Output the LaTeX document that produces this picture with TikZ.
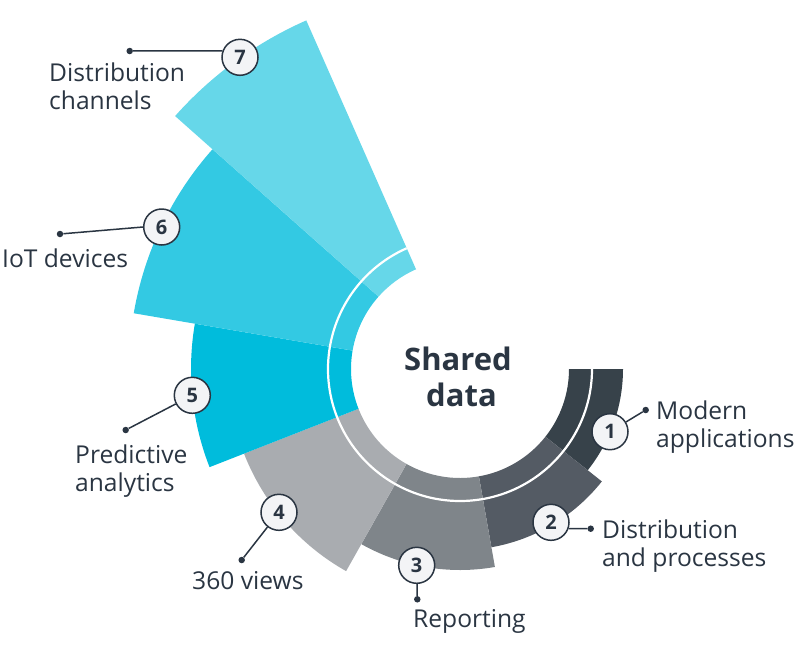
\documentclass[tikz,border=0pt]{standalone}
\usepackage{fontspec}
\setmainfont{Open Sans}
\usetikzlibrary{shapes}
\definecolor{ink}{HTML}{2A3542}
\definecolor{badgefill}{HTML}{F3F4F6}
\definecolor{seg_a}{HTML}{37424A}
\definecolor{seg_b}{HTML}{545B64}
\definecolor{seg_c}{HTML}{7F858A}
\definecolor{seg_d}{HTML}{A9ACB0}
\definecolor{seg_e}{HTML}{00BCDC}
\definecolor{seg_f}{HTML}{33C9E3}
\definecolor{seg_g}{HTML}{66D7E9}
\tikzset{
	badge/.style = {circle, draw=ink, fill=badgefill, line width=1.5pt, inner sep=0pt,
		minimum size=36pt, text=ink, font=\fontsize{20}{20}\selectfont\bfseries},% numbered disc
	leader_dot/.style = {circle, fill=ink, inner sep=0pt, minimum size=6.5pt},% free end of a leader
	leader/.style = {draw=ink, line width=1.5pt},
	lbl/.style = {anchor=west, align=left, inner sep=0pt, text=ink,
		font=\fontsize{24.6}{28}\selectfont}% outer label
}
\begin{document}
\begin{tikzpicture}[x=1pt,y=1pt]
	\useasboundingbox (0,0) rectangle (800,-651);
	\begin{scope}[shift={(460,-369)}]
		\foreach \anga/\angb/\rad/\col in {0/-38.4/163/seg_a,-38.4/-80/181/seg_b,-80/-119.4/201/seg_c,
			-119.4/-158.6/232/seg_d,-158.6/-189.7/269/seg_e,-189.7/-221.6/331/seg_f,-221.6/-246.2/381/seg_g}
			\fill[\col] (\anga:109) arc[start angle=\anga, end angle=\angb, radius=109]
				-- (\angb:\rad) arc[start angle=\angb, end angle=\anga, radius=\rad] -- cycle;
		\draw[white, line width=2.2pt] (0:132) arc[start angle=0, end angle=-246.2, radius=132];
	\end{scope}
	
	\node [badge] (n1) at (610,-431.7) {1};
	\node [badge] (n2) at (551,-522.3) {2};
	\node [badge] (n3) at (416.7,-565.3) {3};
	\node [badge] (n4) at (279,-512.3) {4};
	\node [badge] (n5) at (192.3,-395.3) {5};
	\node [badge] (n6) at (161.7,-227) {6};
	\node [badge] (n7) at (240,-57.3) {7};
	
	\node [leader_dot] (d1) at (645.7,-410) {};
	\node [leader_dot] (d2) at (590.7,-528.7) {};
	\node [leader_dot] (d3) at (417.3,-599.3) {};
	\node [leader_dot] (d4) at (241.7,-560) {};
	\node [leader_dot] (d5) at (125.7,-430) {};
	\node [leader_dot] (d6) at (60,-234) {};
	\node [leader_dot] (d7) at (129.7,-51) {};
	
	\draw [leader] (n1) -- (d1);
	\draw [leader] (n2.-20) -- (d2);
	\draw [leader] (n3) -- (d3);
	\draw [leader] (n4) -- (d4);
	\draw [leader] (n5) -- (d5);
	\draw [leader] (n6.180) -- (d6);
	\draw [leader] (n7.160) -- (d7);
	
	\node [lbl] (t1) at (656,-427.5) {Modern\\applications};
	\node [lbl] (t2) at (602,-546.5) {Distribution\\and processes};
	\node [lbl] (t3) at (413,-621.5) {Reporting};
	\node [lbl] (t4) at (192,-580.5) {360 views};
	\node [lbl] (t5) at (75,-471.5) {Predictive\\analytics};
	\node [lbl] (t6) at (2,-258.5) {IoT devices};
	\node [lbl] (t7) at (49,-86) {Distribution\\channels};
	\node [align=center, inner sep=0pt, text=ink, font=\fontsize{31}{36}\selectfont\bfseries]
		(center) at (458,-376.5) {Shared\\\hspace*{7pt}data};
\end{tikzpicture}
\end{document}
